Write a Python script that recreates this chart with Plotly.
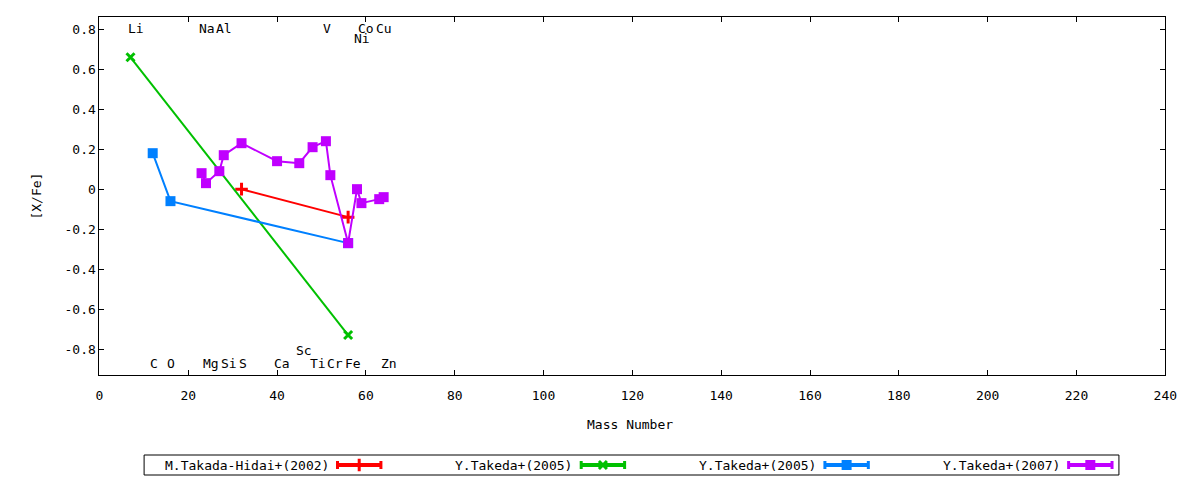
import plotly.graph_objects as go

# [X/Fe] vs mass number, one series per paper
red_mass = [32, 56]
red_xfe = [0.0, -0.14]

green_mass = [7, 56]
green_xfe = [0.66, -0.73]

blue_mass = [12, 16, 56]
blue_xfe = [0.18, -0.06, -0.27]

purple_mass = [23, 24, 27, 28, 32, 40, 45, 48, 51, 52, 56, 58, 59, 63, 64]
purple_xfe = [0.08, 0.03, 0.09, 0.17, 0.23, 0.14, 0.13, 0.21, 0.24, 0.07,
              -0.27, 0.0, -0.07, -0.05, -0.04]

series_names = ["M.Takada-Hidai+(2002)", "Y.Takeda+(2005)", "Y.Takeda+(2005)", "Y.Takeda+(2007)"]

# element labels along top and bottom of the frame
top_el = ["Li", "Na", "Al", "V", "Co", "Cu"]
top_mass = [7, 23, 27, 51, 59, 63]
top2_el = ["Ni"]
top2_mass = [58]
bot_el = ["C", "O", "Mg", "Si", "S", "Ca", "Ti", "Cr", "Fe", "Zn"]
bot_mass = [12, 16, 24, 28, 32, 40, 48, 52, 56, 64]
bot2_el = ["Sc"]
bot2_mass = [45]

y_tick_vals = [-0.8, -0.6, -0.4, -0.2, 0, 0.2, 0.4, 0.6, 0.8]
y_tick_text = ["-0.8", "-0.6", "-0.4", "-0.2", "0", "0.2", "0.4", "0.6", "0.8"]

W, H = 1200, 480
FONT = dict(family="DejaVu Sans Mono", size=13, color="black")


# screen pixel -> paper fraction
def px(x):
    return x / W


def py(y):
    return 1 - y / H


RED = "#ff0000"
GREEN = "#00c000"
BLUE = "#0080ff"
PURPLE = "#c000ff"

styles = [
    (red_mass, red_xfe, RED, dict(symbol="cross-thin", size=9, line=dict(width=3, color=RED))),
    (green_mass, green_xfe, GREEN, dict(symbol="x-thin", size=8, line=dict(width=3, color=GREEN))),
    (blue_mass, blue_xfe, BLUE, dict(symbol="square", size=10, color=BLUE)),
    (purple_mass, purple_xfe, PURPLE, dict(symbol="square", size=10, color=PURPLE)),
]

fig = go.Figure()
for (xs, ys, col, mk), name in zip(styles, series_names):
    fig.add_trace(go.Scatter(x=xs, y=ys, mode="lines+markers", name=name,
                             line=dict(color=col, width=2), marker=mk,
                             showlegend=False, cliponaxis=False))

# hand-made key: text on the left, sample line on the right (gnuplot style)
key_y = 465
key_text_right = [331, 578, 825, 1072]
key_line = [(338, 382), (585, 629), (832, 876), (1079, 1123)]
for (xs, ys, col, mk), name, tx, (a, b) in zip(styles, series_names, key_text_right, key_line):
    fig.add_trace(go.Scatter(x=[a, b], y=[key_y, key_y], mode="lines", xaxis="x2", yaxis="y2",
                             line=dict(color=col, width=4), showlegend=False,
                             error_y=dict(type="constant", value=4, width=0, color=col, thickness=3)))
    fig.add_trace(go.Scatter(x=[(a + b) / 2], y=[key_y], mode="markers", xaxis="x2", yaxis="y2",
                             marker=mk, showlegend=False))
    fig.add_annotation(x=px(tx), y=py(key_y), xref="paper", yref="paper", text=name,
                       showarrow=False, xanchor="right", yanchor="middle", font=FONT)

fig.add_shape(type="rect", xref="paper", yref="paper", x0=px(142), x1=px(1130),
              y0=py(475), y1=py(455), line=dict(color="black", width=1))

for els, ms, yv in [(top_el, top_mass, 0.805), (top2_el, top2_mass, 0.755),
                    (bot_el, bot_mass, -0.87), (bot2_el, bot2_mass, -0.805)]:
    for e, m in zip(els, ms):
        fig.add_annotation(x=m, y=yv, text=e, showarrow=False, xanchor="left",
                           yanchor="middle", xshift=-5, font=FONT)

fig.add_annotation(x=px(32), y=py(196), xref="paper", yref="paper", text="[X/Fe]",
                   textangle=-90, showarrow=False, xanchor="center", yanchor="middle", font=FONT)
fig.add_annotation(x=px(634), y=py(424), xref="paper", yref="paper", text="Mass Number",
                   showarrow=False, xanchor="center", yanchor="middle", font=FONT)

axis_common = dict(showline=True, linecolor="black", linewidth=1, mirror="allticks",
                   ticks="inside", ticklen=5, tickcolor="black", tickwidth=1,
                   showgrid=False, zeroline=False, tickfont=FONT)

# width left to the page: the figure fills the window, so fractions map onto it
fig.update_layout(
    height=H, autosize=True, margin=dict(l=0, r=0, t=0, b=0),
    paper_bgcolor="white", plot_bgcolor="rgba(0,0,0,0)", font=FONT,
    xaxis=dict(domain=[px(96.7), px(1177)], range=[0, 240], dtick=20,
               ticklabelstandoff=8, **axis_common),
    yaxis=dict(domain=[py(375), py(17.3)], range=[-0.93, 0.86],
               tickvals=y_tick_vals, ticktext=y_tick_text, **axis_common),
    xaxis2=dict(domain=[0, 1], range=[0, W], visible=False, anchor="y2", fixedrange=True),
    yaxis2=dict(domain=[0, 1], range=[H, 0], visible=False, anchor="x2", fixedrange=True),
)

page_js = ("document.documentElement.style.overflow='hidden';"
           "document.body.style.margin='0';document.body.style.overflow='hidden';"
           "Plotly.Plots.resize(document.getElementById('{plot_id}'));")
fig.write_html("out.html", config={"displayModeBar": False}, post_script=page_js)
